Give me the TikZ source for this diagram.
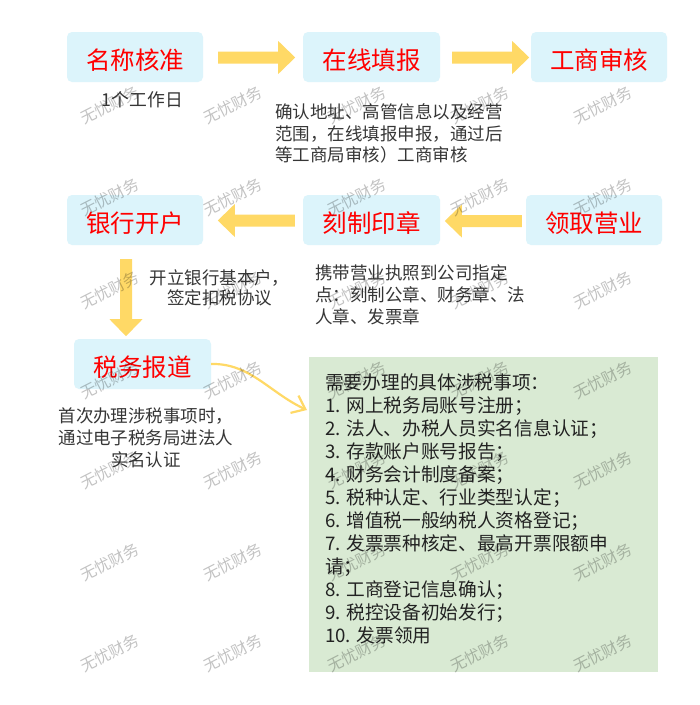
\documentclass[tikz,border=0pt]{standalone}
\usepackage{fontspec}
\setmainfont{Noto Sans CJK SC}
\usetikzlibrary{arrows.meta,calc}
\definecolor{boxcyan}{HTML}{DCF4FB}
\definecolor{arrowyellow}{HTML}{FFD966}
\definecolor{taxgreen}{HTML}{D9EAD3}
\definecolor{titlered}{HTML}{FF0000}
\definecolor{desctext}{HTML}{363636}
\definecolor{listtext}{HTML}{222222}
\begin{document}
\begin{tikzpicture}[x=1pt,y=-1pt,
  stepbox/.style={fill=boxcyan, rounded corners=5pt, minimum width=136pt, minimum height=50pt,
    inner sep=0pt, text=titlered, font=\fontsize{24.5}{28}\selectfont, text height=25pt, text depth=1pt},
  desc/.style={text=desctext, inner sep=0pt, font=\fontsize{17.5}{22}\selectfont},
  listbox/.style={fill=taxgreen, minimum width=349pt, minimum height=315pt, inner sep=0pt},
  listtxt/.style={text=listtext, inner sep=0pt, align=left, font=\fontsize{18.7}{23}\selectfont},
  wm/.style={text=black, opacity=0.24, rotate=27, font=\fontsize{15.8}{18}\selectfont, inner sep=0pt},
  curvearrow/.style={draw=arrowyellow, line width=2.2pt, -{Straight Barb[length=12pt,width=19pt]}},
  pics/blockarrow/.style={code={
    \fill[arrowyellow] (0,-6) -- (60,-6) -- (60,-16.5) -- (77,0) -- (60,16.5) -- (60,6) -- (0,6) -- cycle;}}
]
\useasboundingbox (0,0) rectangle (700,705);
\fill[white] (0,0) rectangle (700,705);

% step boxes
\node[stepbox] (n1) at (135,57) {名称核准};
\node[stepbox, minimum width=137pt] (n2) at (371.5,57) {在线填报};
\node[stepbox] (n3) at (599,57) {工商审核};
\node[stepbox] (n4) at (135,220) {银行开户};
\node[stepbox, minimum width=137pt] (n5) at (371.5,220) {刻制印章};
\node[stepbox] (n6) at (594,220) {领取营业};
\node[stepbox, minimum width=137pt] (n7) at (142.5,364) {税务报道};

% block arrows
\pic at ($(n1.east)+(15,0.5)$) {blockarrow};
\pic at ($(n2.east)+(12,0.5)$) {blockarrow};
\pic[rotate=180] at ($(n5.west)+(-8,0.5)$) {blockarrow};
\pic[rotate=180] at ($(n6.west)+(-4,1)$) {blockarrow};
\pic[rotate=-90] at ($(n4.south)+(-9,14)$) {blockarrow};

% descriptions
\node[desc, font=\fontsize{17.8}{22}\selectfont] (d1) at (142.5,100) {1个工作日};
\node[desc, align=left, anchor=west, font=\fontsize{17.5}{21.5}\selectfont] (d2) at (275,133.5)
  {确认地址、高管信息以及经营\\范围，在线填报申报，通过后\\等工商局审核）工商审核};
\node[desc, align=center, font=\fontsize{17.5}{20}\selectfont] (d4) at (219.5,288)
  {开立银行基本户，\\签定扣税协议};
\node[desc, align=left, anchor=west] (d5) at (315,295)
  {携带营业执照到公司指定\\点：刻制公章、财务章、法\\人章、发票章};
\node[desc, align=center] (d7) at (146,438)
  {首次办理涉税事项时，\\通过电子税务局进法人\\实名认证};

% tax list box
\node[listbox] (tax) at (483.5,514.5) {};
\node[listtxt, anchor=west] (taxtext) at (325,508.5)
  {需要办理的具体涉税事项：\\
   1. 网上税务局账号注册；\\
   2. 法人、办税人员实名信息认证；\\
   3. 存款账户账号报告；\\
   4. 财务会计制度备案；\\
   5. 税种认定、行业类型认定；\\
   6. 增值税一般纳税人资格登记；\\
   7. 发票票种核定、最高开票限额申\\
   请；\\
   8. 工商登记信息确认；\\
   9. 税控设备初始发行；\\
   10. 发票领用};

% curved connector
\coordinate (taxin) at (307,410);
\draw[curvearrow] (n7.east) .. controls (250,363) and (270,393) .. (taxin);

% watermarks
\foreach \wx in {110,233,357,480,603}
  \foreach \wy in {105,197,290,380,470,562,653}
    \node[wm] (w-\wx-\wy) at (\wx,\wy) {无忧财务};
\end{tikzpicture}
\end{document}
